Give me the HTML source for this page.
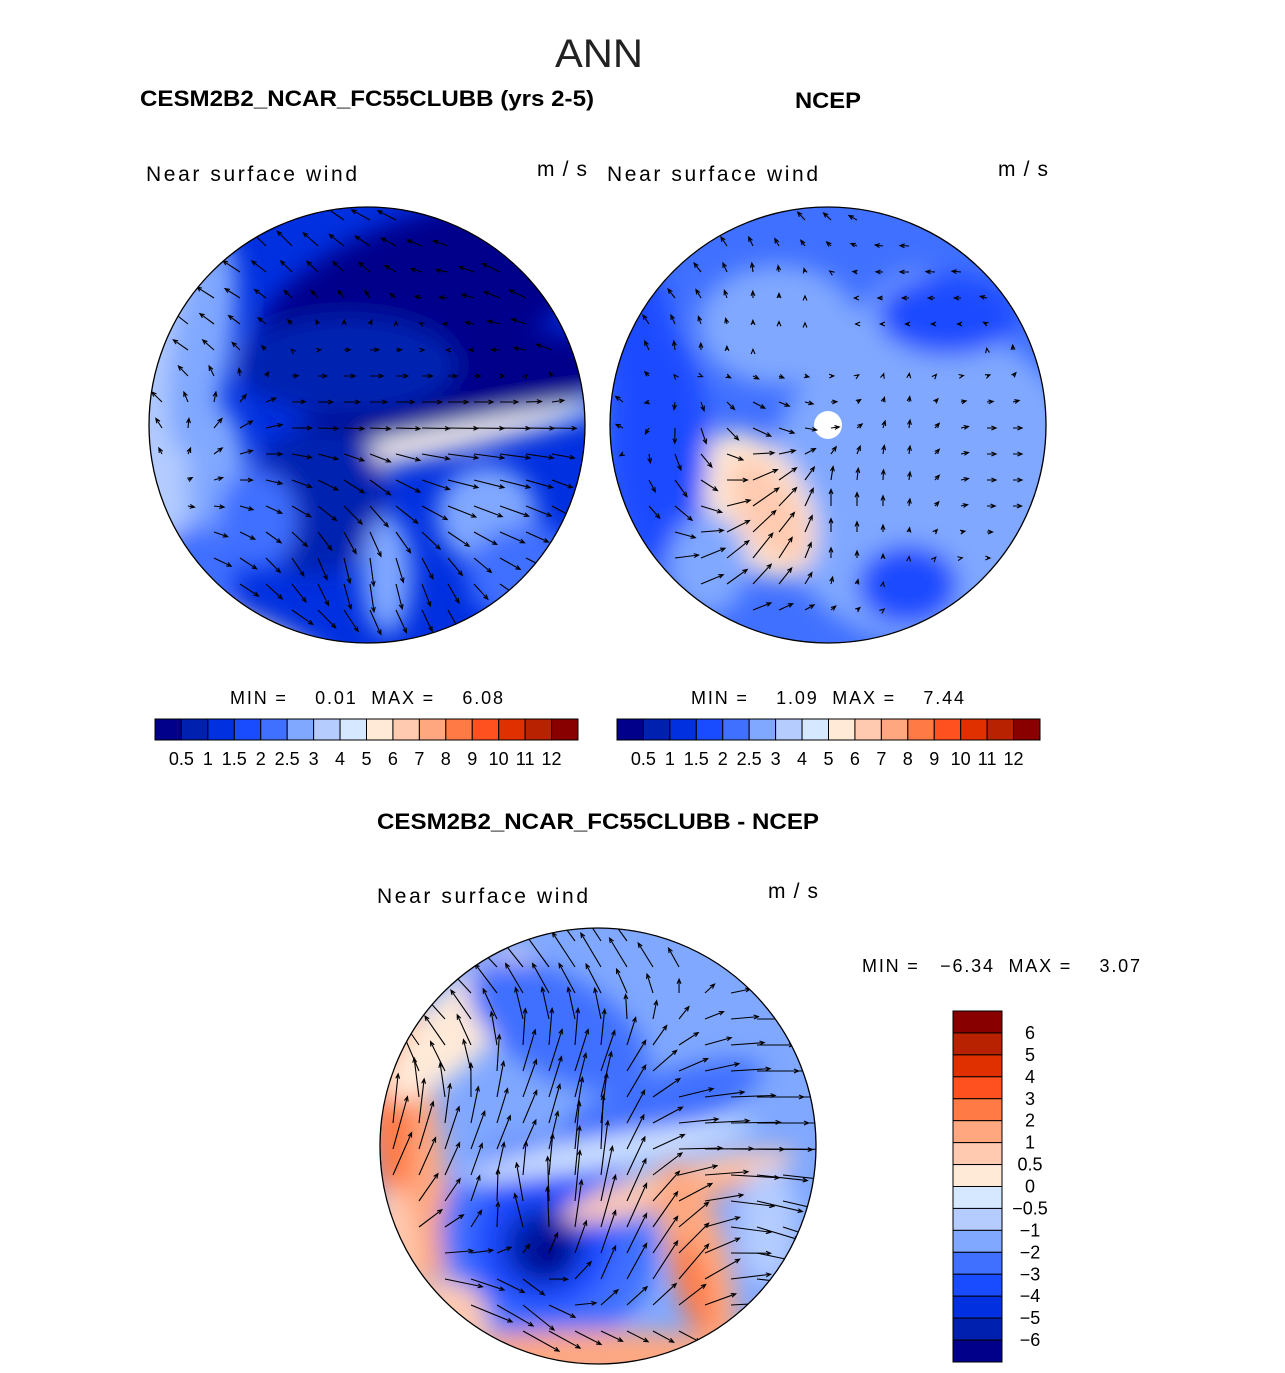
<!DOCTYPE html>
<html><head><meta charset="utf-8">
<style>
html,body{margin:0;padding:0;background:#fff;}
svg{display:block;font-family:"Liberation Sans",sans-serif;}
.pre{white-space:pre;}
</style></head>
<body>
<svg id="fig" width="1285" height="1373" viewBox="0 0 1285 1373" xmlns="http://www.w3.org/2000/svg">
<defs>
<filter id="blur" x="-50%" y="-50%" width="200%" height="200%"><feGaussianBlur stdDeviation="12"/></filter>
<clipPath id="c1"><circle cx="367" cy="425" r="218"/></clipPath>
<clipPath id="c2"><circle cx="828" cy="425" r="218"/></clipPath>
<clipPath id="c3"><circle cx="598" cy="1146" r="218"/></clipPath>
</defs>
<text x="555" y="67" font-size="40" textLength="88" lengthAdjust="spacingAndGlyphs" fill="#222" font-weight="300">ANN</text>
<text x="140" y="106" font-size="22" font-weight="bold" textLength="454" lengthAdjust="spacingAndGlyphs">CESM2B2_NCAR_FC55CLUBB (yrs 2-5)</text>
<text x="795" y="108" font-size="22" font-weight="bold" textLength="66" lengthAdjust="spacingAndGlyphs">NCEP</text>
<text x="377" y="829" font-size="22" font-weight="bold" textLength="442" lengthAdjust="spacingAndGlyphs">CESM2B2_NCAR_FC55CLUBB - NCEP</text>
<text x="146" y="181" font-size="21" textLength="211" lengthAdjust="spacing">Near surface wind</text>
<text x="537" y="176" font-size="21" textLength="50" lengthAdjust="spacing">m/s</text>
<text x="607" y="181" font-size="21" textLength="211" lengthAdjust="spacing">Near surface wind</text>
<text x="998" y="176" font-size="21" textLength="50" lengthAdjust="spacing">m/s</text>
<text x="377" y="903" font-size="21" textLength="211" lengthAdjust="spacing">Near surface wind</text>
<text x="768" y="898" font-size="21" textLength="50" lengthAdjust="spacing">m/s</text>
<text class="pre" x="230" y="704" font-size="18" textLength="273" lengthAdjust="spacing">MIN =    0.01  MAX =    6.08</text>
<text class="pre" x="691" y="704" font-size="18" textLength="273" lengthAdjust="spacing">MIN =    1.09  MAX =    7.44</text>
<text class="pre" x="862" y="972" font-size="18" textLength="278" lengthAdjust="spacing">MIN =   −6.34  MAX =    3.07</text>
<g id="maps"></g>
<g id="bars"></g>
</svg>
<script>
const colors=["#00008b","#0020b0","#0030e0","#1a4cff","#4070ff","#80a8ff","#b4ccff","#d6e8ff","#ffead8","#ffcab0","#ffa880","#ff7a45","#ff5020","#e03000","#b82200","#880000"];
const absLabels=["0.5","1","1.5","2","2.5","3","4","5","6","7","8","9","10","11","12"];
const diffLabels=["6","5","4","3","2","1","0.5","0","−0.5","−1","−2","−3","−4","−5","−6"];
// blobs: [dx, dy, rx, ry, rot, colorIndex]  (relative to map center)
const modelBase=2;
const modelBlobs=[[-200,-10,40,200,0,6],[-165,-80,30,110,10,5],[-150,60,30,80,0,5],[60,-130,180,80,-20,0],[90,-30,160,50,-15,0],[-20,-60,110,50,0,1],[60,18,190,14,-12,7],[40,28,160,9,-12,8],[-50,75,70,75,20,1],[120,90,50,50,0,5],[160,150,60,50,0,4],[-150,205,120,25,20,8],[20,150,25,60,0,5],[-110,95,40,50,0,4],[-170,150,40,50,0,4]];
const obsBase=4;
const obsBlobs=[[100,60,160,160,0,5],[60,-40,60,120,20,5],[-50,-100,80,60,0,5],[-70,80,50,80,-30,8],[-60,85,30,60,-30,9],[-170,20,50,120,0,3],[120,-110,70,40,0,3],[-190,-80,35,80,0,3],[-120,140,40,50,0,5],[80,160,50,40,0,3],[0,0,14,14,0,-1]];
const diffBase=5;
const diffBlobs=[[-195,-30,35,170,-10,10],[-205,-20,20,90,0,11],[-140,-120,35,100,45,8],[-50,95,110,100,30,4],[-55,95,70,70,30,3],[-55,100,40,40,30,1],[-50,105,20,20,0,0],[80,40,120,20,-15,9],[100,45,60,10,-15,10],[100,110,30,100,-15,10],[95,140,16,50,-15,11],[0,210,200,25,0,10],[-40,-120,100,50,30,4],[60,-40,110,30,-20,4],[170,80,30,60,0,6],[10,5,150,14,-10,7],[-205,130,25,90,0,9],[-150,175,40,40,40,9]];
// wind vectors on coarse grid (u,v) rows top->bottom, 7x7
const modelU=[[0,-1,-2,-2,-2,-1,0],[-1,-2,-1,-1,-1,-2,-1],[-2,-1,0,1,0,-1,-2],[-1,1,2,2,3,3,2],[0,1,2,2,3,3,1],[1,2,1,0,1,2,1],[0,2,3,2,1,1,0]];
const modelV=[[2,2,2,1,1,1,1],[2,1,1,1,0,1,1],[1,1,0,0,0,0,1],[1,1,0,0,0,0,0],[0,0,-1,-2,-1,-1,-1],[-1,-1,-2,-3,-2,-1,-1],[-1,-1,-1,-2,-2,-1,0]];
const obsU=[[0,-1,-1,-1,-1,-1,0],[-1,-1,0,0,-1,-1,-1],[-1,0,0,0,0,0,0],[-1,0,2,1,0,1,1],[0,2,3,0,0,1,1],[1,3,2,0,0,0,1],[0,1,2,1,0,0,0]];
const obsV=[[1,1,1,1,0,1,1],[1,1,1,0,0,0,1],[1,1,0,0,0,0,1],[1,-2,-1,0,1,0,0],[-1,-2,2,2,1,0,0],[-1,1,3,1,0,0,0],[0,-1,-1,0,0,0,0]];
const diffU=[[-2,-3,-3,-2,-2,-1,-1],[-3,-2,-1,-1,0,2,2],[-1,-1,1,1,2,3,3],[1,1,1,0,3,4,4],[2,1,-1,1,2,3,3],[3,3,2,1,2,3,2],[3,4,3,2,1,1,0]];
const diffV=[[2,2,3,3,2,1,0],[2,2,2,2,1,0,0],[3,2,3,3,1,0,0],[4,3,2,4,0,0,0],[2,1,3,4,2,-1,-1],[0,-1,-2,2,3,0,-1],[-1,-1,-1,-3,-4,-1,0]];
const maps=[{name:'model',cx:367,cy:425,clip:'c1',base:modelBase,blobs:modelBlobs,u:modelU,v:modelV,sc:10},
 {name:'obs',cx:828,cy:425,clip:'c2',base:obsBase,blobs:obsBlobs,u:obsU,v:obsV,sc:9},
 {name:'diff',cx:598,cy:1146,clip:'c3',base:diffBase,blobs:diffBlobs,u:diffU,v:diffV,sc:14}];
const NS='http://www.w3.org/2000/svg';
function mk(t,a,p){const e=document.createElementNS(NS,t);for(const k in a)e.setAttribute(k,a[k]);p.appendChild(e);return e;}
const G=document.getElementById('maps');
function interp(arr,fx,fy){const n=arr.length-1;const x=Math.min(Math.max(fx*n,0),n-0.001),y=Math.min(Math.max(fy*n,0),n-0.001);const i=Math.floor(y),j=Math.floor(x),a=y-i,b=x-j;return arr[i][j]*(1-a)*(1-b)+arr[i][j+1]*(1-a)*b+arr[i+1][j]*a*(1-b)+arr[i+1][j+1]*a*b;}
maps.forEach(m=>{
 const g=mk('g',{'clip-path':'url(#'+m.clip+')'},G);
 
 
 mk('circle',{cx:m.cx,cy:m.cy,r:218,fill:colors[m.base]},g);
 const fg=mk('g',{filter:'url(#blur)'},g);
 m.blobs.forEach(b=>{
  const e=mk('ellipse',{cx:m.cx+b[0],cy:m.cy+b[1],rx:b[2],ry:b[3],transform:`rotate(${b[4]} ${m.cx+b[0]} ${m.cy+b[1]})`,fill:b[5]<0?'#fff':colors[b[5]]},b[5]<0?g:fg);
  
  
 });
 const ag=mk('g',{stroke:'#000','stroke-width':1.1,fill:'none'},g);
 for(let y=m.cy-205;y<=m.cy+205;y+=26)for(let x=m.cx-205;x<=m.cx+205;x+=26){
  const dx=x-m.cx,dy=y-m.cy;if(dx*dx+dy*dy>208*208)continue;
  const fx=(dx+218)/436,fy=(dy+218)/436;
  const u=interp(m.u,fx,fy),v=interp(m.v,fx,fy);
  const L=Math.hypot(u,v);if(L<0.05)continue;
  const x2=x+u*m.sc,y2=y-v*m.sc;const ang=Math.atan2(y2-y,x2-x);
  const h=5;
  const p=mk('path',{d:`M${x},${y}L${x2},${y2}M${x2-h*Math.cos(ang-0.4)},${y2-h*Math.sin(ang-0.4)}L${x2},${y2}L${x2-h*Math.cos(ang+0.4)},${y2-h*Math.sin(ang+0.4)}`},ag);
  
  
 }
 const o=mk('circle',{cx:m.cx,cy:m.cy,r:218,fill:'none',stroke:'#000','stroke-width':1.3},G);
 
 
});
const B=document.getElementById('bars');
[[155,'model',absLabels],[617,'obs',absLabels]].forEach(([x0,n,labs])=>{
 const w=423/16;
 colors.forEach((c,i)=>{const r=mk('rect',{x:x0+i*w,y:719,width:w,height:21,fill:c,stroke:'#000','stroke-width':1},B);
  });
 labs.forEach((l,i)=>{const t=mk('text',{x:x0+(i+1)*w,y:765,'font-size':18,'text-anchor':'middle'},B);t.textContent=l;
  });
});
const h=351/16;
colors.slice().reverse().forEach((c,i)=>{const r=mk('rect',{x:953,y:1011+i*h,width:49,height:h,fill:c,stroke:'#000','stroke-width':1},B);
 });
diffLabels.forEach((l,i)=>{const t=mk('text',{x:1030,y:1011+(i+1)*h+6,'font-size':18,'text-anchor':'middle'},B);t.textContent=l;
 });
</script>
</body></html>
